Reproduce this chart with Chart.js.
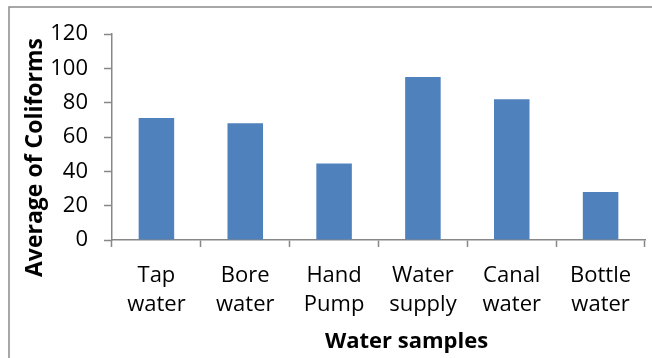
<!DOCTYPE html>
<html>
<head>
<meta charset="utf-8">
<script src="https://cdn.jsdelivr.net/npm/chart.js@4/dist/chart.umd.min.js"></script>
<style>
  html, body { margin: 0; padding: 0; background: #fff; }
  #wrap { width: 652px; height: 358px; position: relative; }
</style>
</head>
<body>
<div id="wrap"><canvas id="c" width="652" height="358"></canvas></div>
<script>
// Water sample categories (two-line labels) and mean coliform counts
const categories = [
  ['Tap', 'water'],
  ['Bore', 'water'],
  ['Hand', 'Pump'],
  ['Water', 'supply'],
  ['Canal', 'water'],
  ['Bottle', 'water']
];
const coliformAverages = [71, 68, 44.5, 95, 82, 28];
const yAxisTitle = 'Average of Coliforms';
const xAxisTitle = 'Water samples';

const FONT = '"Open Sans", "Liberation Sans", sans-serif';
const AXIS_GREY = '#878787';

// Outer frame and the two axis titles
const framePlugin = {
  id: 'frameAndTitles',
  beforeDraw(chart) {
    const ctx = chart.ctx;
    ctx.save();
    ctx.strokeStyle = '#8a8a8a';
    ctx.lineWidth = 1.5;
    ctx.beginPath();
    ctx.moveTo(9, chart.height + 2);
    ctx.lineTo(9, 7);
    ctx.lineTo(chart.width + 2, 7);
    ctx.stroke();
    ctx.restore();
  },
  afterDraw(chart) {
    const ctx = chart.ctx;
    const a = chart.chartArea;
    ctx.save();
    ctx.fillStyle = '#000';
    ctx.textAlign = 'center';
    ctx.textBaseline = 'alphabetic';
    ctx.font = 'bold 22px ' + FONT;
    ctx.fillText(xAxisTitle, a.left + 294.5, 348);
    ctx.font = 'bold 23px ' + FONT;
    ctx.translate(42, a.top + 123.5);
    ctx.rotate(-Math.PI / 2);
    ctx.fillText(yAxisTitle, 0, 0);
    ctx.restore();
  }
};

new Chart(document.getElementById('c'), {
  type: 'bar',
  data: {
    labels: categories,
    datasets: [{
      data: coliformAverages,
      backgroundColor: '#4F81BD',
      borderWidth: 0,
      barPercentage: 0.4,
      categoryPercentage: 1.0
    }]
  },
  options: {
    responsive: false,
    animation: false,
    devicePixelRatio: 1,
    layout: { padding: { left: 0, right: 7, top: 34, bottom: 0 } },
    plugins: {
      legend: { display: false },
      tooltip: { enabled: false }
    },
    scales: {
      x: {
        offset: true,
        grid: {
          offset: true,
          drawOnChartArea: false,
          drawTicks: true,
          tickLength: 7,
          tickWidth: 1.5,
          tickColor: AXIS_GREY
        },
        border: { display: true, color: AXIS_GREY, width: 1.5 },
        ticks: {
          color: '#000',
          font: { family: FONT, size: 22, lineHeight: 1.32 },
          padding: 14,
          maxRotation: 0,
          autoSkip: false
        },
        afterFit(scale) { scale.height = 118; }
      },
      y: {
        min: 0,
        max: 120,
        ticks: {
          stepSize: 20,
          color: '#000',
          font: { family: FONT, size: 22 },
          padding: 16
        },
        grid: {
          drawOnChartArea: false,
          drawTicks: true,
          tickLength: 8,
          tickWidth: 1.5,
          tickColor: AXIS_GREY
        },
        border: { display: true, color: AXIS_GREY, width: 1.5 },
        afterFit(scale) { scale.width = 112; }
      }
    }
  },
  plugins: [framePlugin]
});
</script>
</body>
</html>
